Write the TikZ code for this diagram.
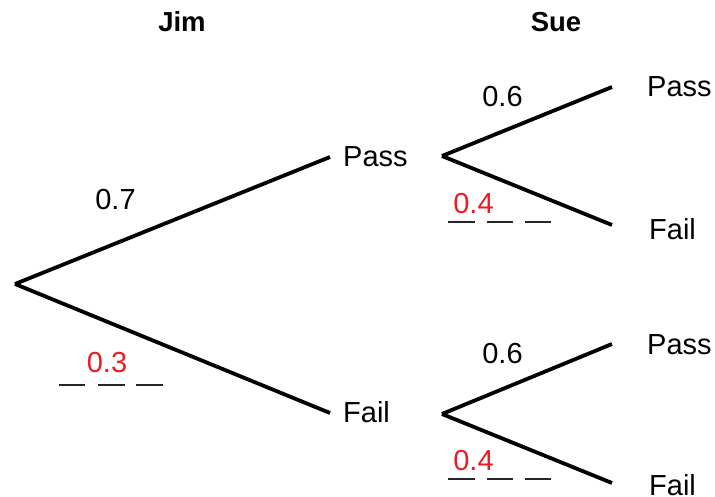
\documentclass[tikz,border=0pt]{standalone}
\usepackage{fontspec}
\setmainfont{Liberation Sans}
\definecolor{ansred}{HTML}{ED1C24}
\begin{document}
\begin{tikzpicture}[x=1pt,y=-1pt,
  branch/.style={line width=3.8pt},
  blank/.style={line width=2.6pt, color=black!85},
  lbl/.style={inner sep=0pt, font=\fontsize{29}{32}\selectfont},
  head/.style={inner sep=0pt, font=\fontsize{27.5}{32}\selectfont\bfseries},
  prob/.style={lbl},
  ans/.style={lbl, text=ansred}]
\useasboundingbox (0,0) rectangle (715,497);
% tree points
\coordinate (root) at (15,284);
\coordinate (jp) at (330,157);
\coordinate (jf) at (330,413);
\coordinate (sp) at (442,156);
\coordinate (sf) at (442,414);
\coordinate (spp) at (612,87);
\coordinate (spf) at (612,225);
\coordinate (sfp) at (612,344);
\coordinate (sff) at (612,483);
% headings
\node[head] (jim) at (182,22) {Jim};
\node[head] (sue) at (556,22) {Sue};
% outcome labels
\node[lbl, anchor=west] (pass1) at (343,157) {Pass};
\node[lbl, anchor=west] (fail1) at (343,412) {Fail};
\node[lbl, anchor=west] (pass2) at (647,87) {Pass};
\node[lbl, anchor=west] (fail2) at (649,229) {Fail};
\node[lbl, anchor=west] (pass3) at (647,345) {Pass};
\node[lbl, anchor=west] (fail3) at (649,485) {Fail};
% branches
\draw[branch] (root) -- (jp);
\draw[branch] (root) -- (jf);
\draw[branch] (sp) -- (spp);
\draw[branch] (sp) -- (spf);
\draw[branch] (sf) -- (sfp);
\draw[branch] (sf) -- (sff);
% probabilities
\node[prob] (p07) at (115.5,200) {0.7};
\node[ans] (p03) at (107,363) {0.3};
\node[prob] (p06a) at (502.5,96.5) {0.6};
\node[ans] (p04a) at (473.5,204) {0.4};
\node[prob] (p06b) at (502.5,354) {0.6};
\node[ans] (p04b) at (473.5,461) {0.4};
% answer blanks
\foreach \y in {222,479} {
  \draw[blank] (448,\y) -- (475,\y);
  \draw[blank] (487,\y) -- (513,\y);
  \draw[blank] (525,\y) -- (551,\y);
}
\draw[blank] (59,385) -- (85,385);
\draw[blank] (98,385) -- (125,385);
\draw[blank] (136,385) -- (163,385);
\end{tikzpicture}
\end{document}
